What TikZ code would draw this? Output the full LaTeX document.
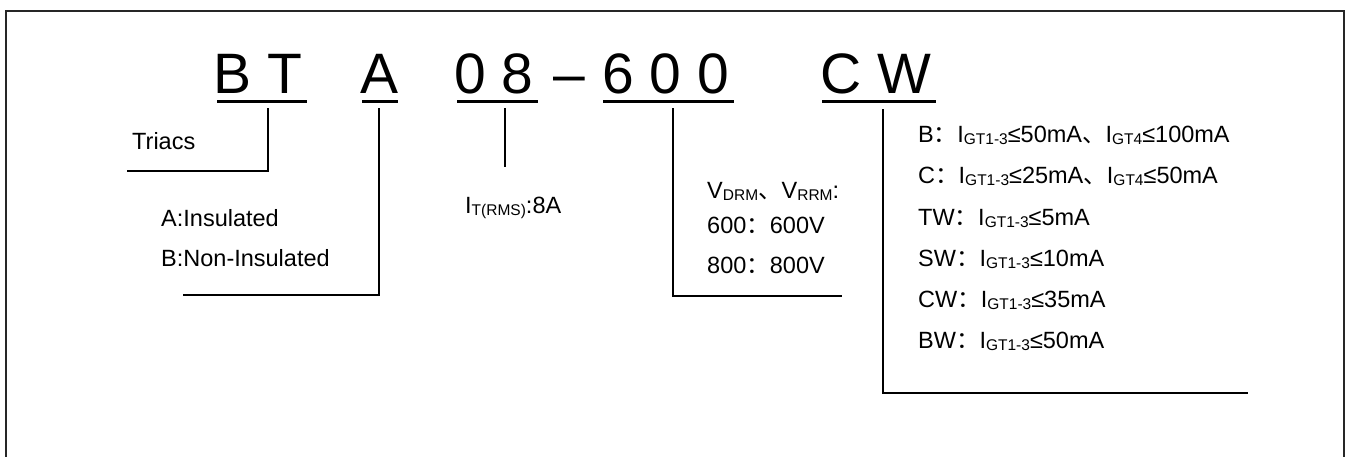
\documentclass[tikz,border=0pt]{standalone}
\usepackage{fontspec}
\setmainfont{Liberation Sans}
\newfontfamily\cjk{Noto Sans CJK SC}
\newcommand{\sbs}[1]{\raisebox{-0.1em}{\fontsize{15.5}{15.5}\selectfont #1}}
\newcommand{\fc}{{\cjk ：}}
\newcommand{\dn}{{\cjk 、}}
\begin{document}
\begin{tikzpicture}[x=1pt,y=-1pt,
  brk/.style={line width=2.8pt},
  ul/.style={line width=3pt},
  big/.style={inner sep=0pt, anchor=base west, font=\fontsize{57}{57}\selectfont},
  lbl/.style={inner sep=0pt, anchor=base west, font=\fontsize{23.5}{23.5}\selectfont}]
\useasboundingbox (0,0) rectangle (1349,456);
\begin{scope}
\clip (0,0) rectangle (1349,456);
\draw[line width=1.8pt, black!85] (6,11) rectangle (1344,490);
\end{scope}
% big part number
\node[big] (bt) at (213,93) {B T};
\node[big] (a) at (360,93) {A};
\node[big] (n08) at (454,93) {0 8};
\node[big,anchor=base] (dash) at (569,93) {–};
\node[big] (n600) at (602,93) {6 0 0};
\node[big] (cw) at (820,93) {C W};
% underlines
\draw[ul] (217,101) -- (307,101);
\draw[ul] (362,101) -- (398,101);
\draw[ul] (457,101) -- (538,101);
\draw[ul] (603,101) -- (734,101);
\draw[ul] (822,101) -- (936,101);
% labels
\node[lbl] (triacs) at (132,149) {Triacs};
\node[lbl] (ains) at (161,226) {A:Insulated};
\node[lbl] (bnon) at (161,266) {B:Non-Insulated};
\node[lbl] (it) at (465,213) {I\sbs{T(RMS)}:8A};
\node[lbl] (vdrm) at (707,198) {V\sbs{DRM}\dn V\sbs{RRM}:};
\node[lbl] (v600) at (707,233) {600\fc 600V};
\node[lbl] (v800) at (707,273) {800\fc 800V};
\node[lbl] (gb) at (918,142) {B\fc I\sbs{GT1-3}≤50mA\dn I\sbs{GT4}≤100mA};
\node[lbl] (gc) at (918,183.5) {C\fc I\sbs{GT1-3}≤25mA\dn I\sbs{GT4}≤50mA};
\node[lbl] (gtw) at (918,225) {TW\fc I\sbs{GT1-3}≤5mA};
\node[lbl] (gsw) at (918,266) {SW\fc I\sbs{GT1-3}≤10mA};
\node[lbl] (gcw) at (918,307) {CW\fc I\sbs{GT1-3}≤35mA};
\node[lbl] (gbw) at (918,348) {BW\fc I\sbs{GT1-3}≤50mA};
% brackets
\coordinate (b1) at (268,108); \coordinate (b2) at (268,171); \coordinate (b3) at (127,171);
\draw[brk] (b1) -- (b2) -- (b3);
\coordinate (a1) at (379,108); \coordinate (a2) at (379,295); \coordinate (a3) at (183,295);
\draw[brk] (a1) -- (a2) -- (a3);
\coordinate (i1) at (505,108); \coordinate (i2) at (505,167);
\draw[brk] (i1) -- (i2);
\coordinate (v1) at (673,108); \coordinate (v2) at (673,296); \coordinate (v3) at (842,296);
\draw[brk] (v1) -- (v2) -- (v3);
\coordinate (c1) at (883,109); \coordinate (c2) at (883,393); \coordinate (c3) at (1248,393);
\draw[brk] (c1) -- (c2) -- (c3);
\end{tikzpicture}
\end{document}
